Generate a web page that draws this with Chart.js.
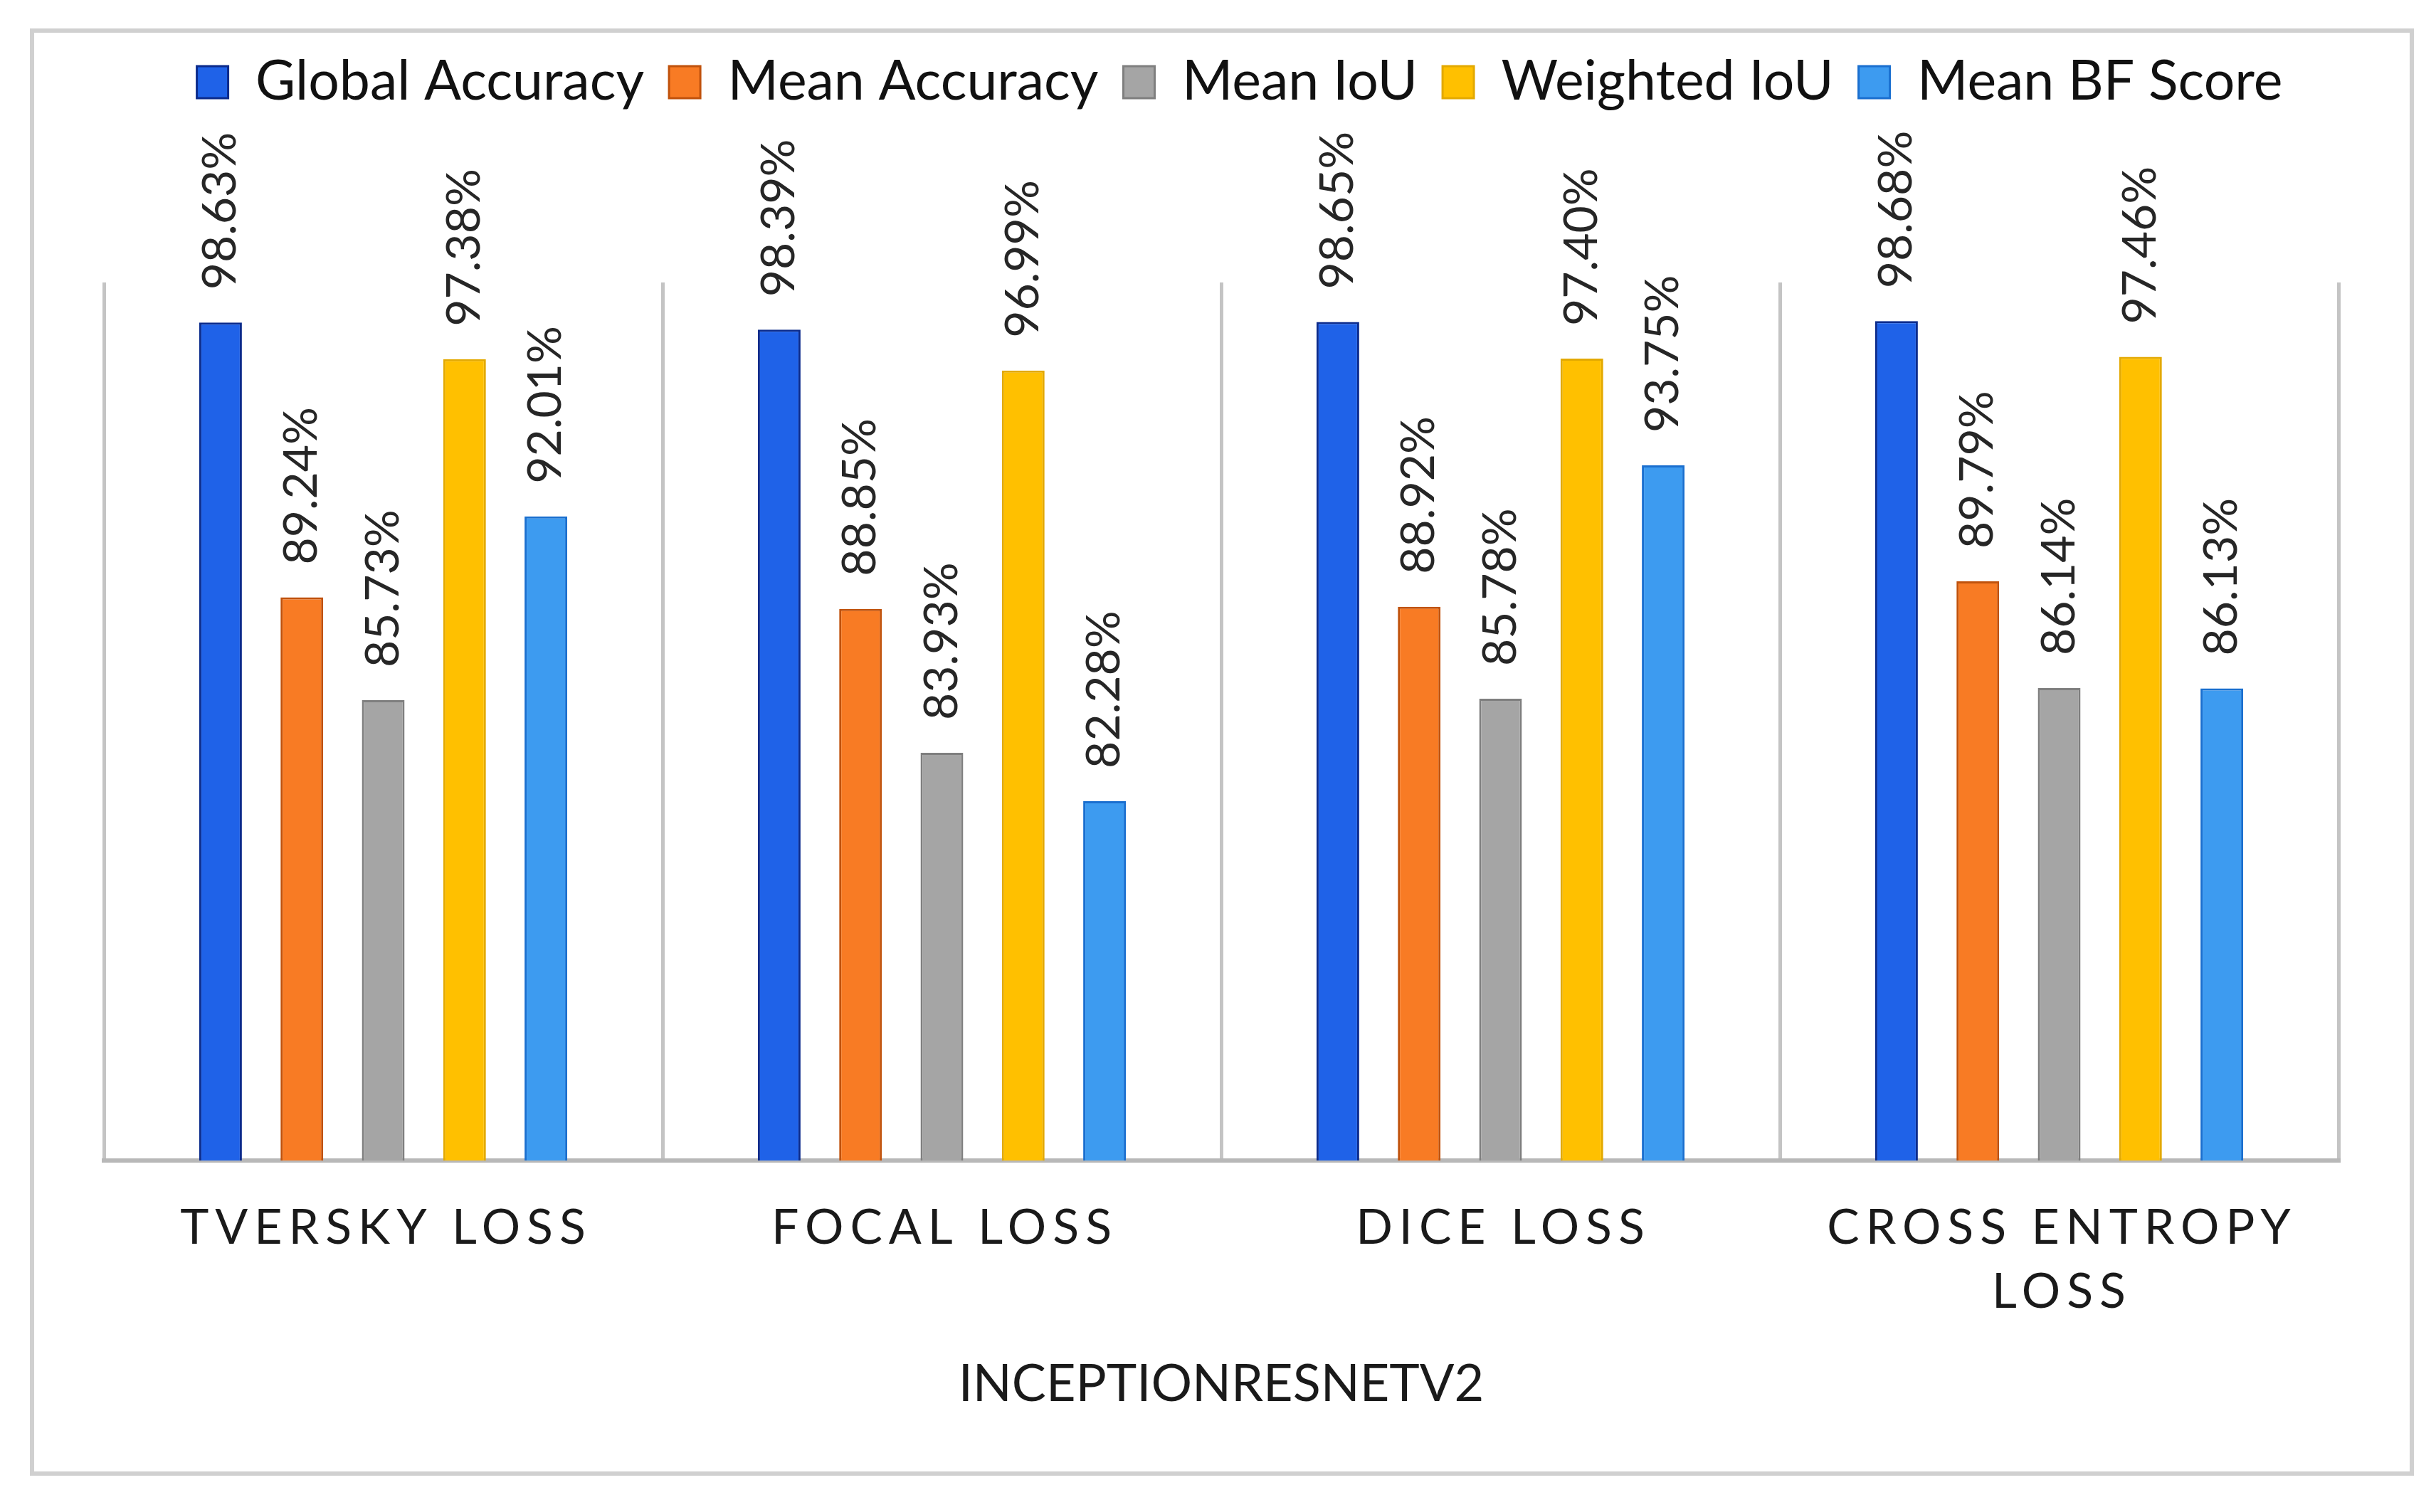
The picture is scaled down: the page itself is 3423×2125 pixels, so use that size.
<!DOCTYPE html>
<html>
<head>
<meta charset="utf-8">
<script src="https://cdn.jsdelivr.net/npm/chart.js@4.4.1/dist/chart.umd.min.js"></script>
<style>
  html, body { margin: 0; padding: 0; background: #fff; }
  #frame { position: absolute; left: 42px; top: 40px; width: 3338px; height: 2022px; border: 6px solid #d0d0d0; }
  #wrap { position: absolute; left: 0; top: 0; width: 3423px; height: 2125px; }
</style>
</head>
<body>
<div id="frame"></div>
<div id="wrap"><canvas id="chart"></canvas></div>
<script>
// categories and series
const categories = ['TVERSKY LOSS', 'FOCAL LOSS', 'DICE LOSS', ['CROSS ENTROPY', 'LOSS']];
const seriesNames = ['Global Accuracy', 'Mean Accuracy', 'Mean IoU', 'Weighted IoU', 'Mean BF Score'];
const globalAccuracy = [98.63, 98.39, 98.65, 98.68];
const meanAccuracy = [89.24, 88.85, 88.92, 89.79];
const meanIoU = [85.73, 83.93, 85.78, 86.14];
const weightedIoU = [97.38, 96.99, 97.40, 97.46];
const meanBFScore = [92.01, 82.28, 93.75, 86.13];
const axisTitle = 'INCEPTIONRESNETV2';

const fillColors = ['#1f62e8', '#f87b24', '#a5a5a5', '#ffc000', '#3d9bf0'];
const borderColors = ['#0b2b8c', '#c0520c', '#7f7f7f', '#e3a900', '#1a6fcf'];

const FONT = "Lato, 'Open Sans', sans-serif";
const tickFontSize = 68;
const tickLine = 90;
const tickPad = 50;

// rotated value labels above each bar
const barValueLabels = {
  id: 'barValueLabels',
  afterDatasetsDraw(chart) {
    const ctx = chart.ctx;
    ctx.save();
    ctx.font = '66px ' + FONT;
    ctx.fillStyle = '#262626';
    ctx.textAlign = 'left';
    ctx.textBaseline = 'middle';
    chart.data.datasets.forEach((ds, di) => {
      chart.getDatasetMeta(di).data.forEach((bar, i) => {
        ctx.save();
        ctx.translate(bar.x, bar.y - 46);
        ctx.rotate(-Math.PI / 2);
        ctx.fillText(ds.data[i].toFixed(2) + '%', 0, 0);
        ctx.restore();
      });
    });
    ctx.restore();
  }
};

// category labels with letter spacing (chart.js ticks are kept for layout)
const spacedTicks = {
  id: 'spacedTicks',
  afterDraw(chart) {
    const scale = chart.scales.x;
    const ctx = chart.ctx;
    ctx.save();
    ctx.font = tickFontSize + 'px ' + FONT;
    ctx.letterSpacing = '9px';
    ctx.fillStyle = '#1a1a1a';
    ctx.textAlign = 'center';
    ctx.textBaseline = 'middle';
    categories.forEach((label, i) => {
      const lines = Array.isArray(label) ? label : [label];
      const x = scale.getPixelForTick(i) + 4;
      lines.forEach((line, j) => {
        ctx.fillText(line, x, scale.top + tickPad + tickLine / 2 + j * tickLine);
      });
    });
    ctx.restore();
  }
};

// room between legend and plot, legend nudged right a little
const legendSpacer = {
  id: 'legendSpacer',
  beforeInit(chart) {
    const fit = chart.legend.fit;
    chart.legend.fit = function () {
      fit.bind(chart.legend)();
      this.height += 233;
    };
  },
  beforeDraw(chart) {
    chart.legend.left += 26;
    chart.legend.right += 26;
  }
};

function makeChart() {
  const seriesData = [globalAccuracy, meanAccuracy, meanIoU, weightedIoU, meanBFScore];
  const ctx = document.getElementById('chart').getContext('2d');
  new Chart(ctx, {
    type: 'bar',
    data: {
      labels: categories,
      datasets: seriesNames.map((name, i) => ({
        label: name,
        data: seriesData[i],
        backgroundColor: fillColors[i],
        borderColor: borderColors[i],
        borderWidth: 3,
        borderSkipped: false,
        categoryPercentage: 0.728,
        barPercentage: 0.525
      }))
    },
    options: {
      responsive: true,
      maintainAspectRatio: false,
      animation: false,
      devicePixelRatio: 1,
      layout: { padding: { left: 146, right: 137, top: 42, bottom: 0 } },
      plugins: {
        legend: {
          position: 'top',
          labels: {
            font: { family: FONT, size: 77 },
            color: '#111',
            boxWidth: 44,
            boxHeight: 45,
            padding: 35
          }
        },
        tooltip: { enabled: false }
      },
      scales: {
        x: {
          grid: { offset: true, color: '#c4c4c4', lineWidth: 5, drawTicks: false },
          border: { color: '#b8b8b8', width: 6 },
          ticks: {
            color: 'rgba(0,0,0,0)',
            font: { family: FONT, size: tickFontSize, lineHeight: tickLine / tickFontSize },
            padding: tickPad,
            maxRotation: 0,
            autoSkip: false
          },
          title: {
            display: true,
            text: axisTitle,
            color: '#1a1a1a',
            font: { family: FONT, size: 72 },
            padding: { top: 0, bottom: 136 }
          },
          afterFit(scale) {
            scale.height = 494;
          }
        },
        y: { display: false, min: 70, max: 100 }
      }
    },
    plugins: [legendSpacer, barValueLabels, spacedTicks]
  });
}

document.fonts.load('70px Lato').then(makeChart, makeChart);
</script>
</body>
</html>
